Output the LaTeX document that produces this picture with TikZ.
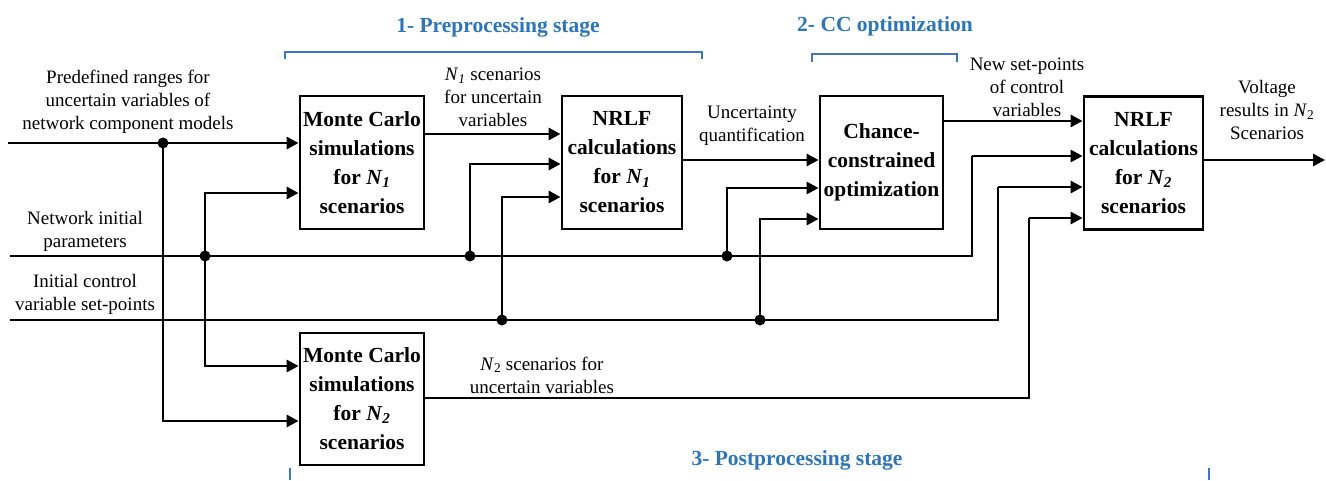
\documentclass[tikz,border=0pt]{standalone}
\usepackage{fontspec}
\setmainfont{Liberation Serif}
\usetikzlibrary{arrows.meta,calc}
\definecolor{headblue}{RGB}{46,117,182}
\definecolor{brkblue}{RGB}{68,114,196}
\newcommand{\Nsub}[1]{\textit{N}\textsubscript{\textit{#1}}}
\tikzset{
  blk/.style={draw,line width=2.8pt,minimum width=124pt,minimum height=133pt,inner sep=0pt,
    align=center,font=\fontsize{21.5}{29}\selectfont\bfseries},
  lbl/.style={align=center,inner sep=0pt,font=\fontsize{19}{23}\selectfont},
  head/.style={inner sep=0pt,text=headblue,font=\fontsize{21.5}{26}\selectfont\bfseries},
  wire/.style={line width=2.8pt},
  arr/.style={wire,-{Triangle[length=12pt,width=12pt]}},
  brk/.style={draw=brkblue,line width=2.5pt},
  dot/.style={circle,fill=black,inner sep=0pt,minimum size=11pt}
}
\begin{document}
\begin{tikzpicture}[x=1pt,y=-1pt]
\useasboundingbox (0,0) rectangle (1326,480);
\fill[white] (0,0) rectangle (1326,480);

% processing blocks
\node[blk] (mc1) at (362,162.5) {Monte Carlo\\simulations\\for \Nsub{1}\\scenarios};
\node[blk,minimum width=120pt] (nr1) at (622,162.5) {NRLF\\calculations\\for \Nsub{1}\\scenarios};
\node[blk,minimum width=123pt] (cc) at (881.5,162.5) {Chance-\\constrained\\optimization};
\node[blk,minimum width=119pt] (nr2) at (1143.5,163) {NRLF\\calculations\\for \Nsub{2}\\scenarios};
\node[blk,minimum height=132pt] (mc2) at (362,399) {Monte Carlo\\simulations\\for \Nsub{2}\\scenarios};

% inputs on the left
\coordinate (s1) at (8,143);
\coordinate (s2) at (10,256);
\coordinate (s3) at (10,320);
% branch points
\coordinate (d1) at (163,143);
\coordinate (d2) at (205,256);
\coordinate (d3) at (470,256);
\coordinate (d4) at (727,256);
\coordinate (d5) at (502,320);
\coordinate (d6) at (760,320);
% corners of the long runs into the last block
\coordinate (kn) at (972,156);
\coordinate (kc) at (998,187);
\coordinate (km) at (1029,218);
\coordinate (out) at (1325,160);

% predefined ranges
\draw[arr] (s1) -- (mc1.west |- s1);
\draw[arr] (d1) |- (mc2.west |- 0,421);
% network initial parameters
\draw[wire] (s2) -| (kn);
\draw[arr] (kn) -- (nr2.west |- kn);
\draw[arr] (d2) |- (mc1.west |- 0,193);
\draw[arr] (d2) |- (mc2.west |- 0,366);
\draw[arr] (d3) |- (nr1.west |- 0,164);
\draw[arr] (d4) |- (cc.west |- 0,188);
% initial control set-points
\draw[wire] (s3) -| (kc);
\draw[arr] (kc) -- (nr2.west |- kc);
\draw[arr] (d5) |- (nr1.west |- 0,197);
\draw[arr] (d6) |- (cc.west |- 0,219);
% block to block
\draw[arr] (mc1.east |- 0,134) -- (nr1.west |- 0,134);
\draw[arr] (nr1.east |- 0,160) -- (cc.west |- 0,160);
\draw[arr] (cc.east |- 0,121) -- (nr2.west |- 0,121);
\draw[wire] (mc2.east |- 0,398) -| (km);
\draw[arr] (km) -- (nr2.west |- km);
\draw[arr] (nr2.east |- out) -- (out);

% junction dots
\foreach \d in {d1,d2,d3,d4,d5,d6} \node[dot] at (\d) {};

% signal labels
\node[lbl] (lpre) at (128,102) {Predefined ranges for\\uncertain variables of\\network component models};
\node[lbl] (lnet) at (85,231) {Network initial\\parameters};
\node[lbl] (lctl) at (85,294) {Initial control\\variable set-points};
\node[lbl] (ln1) at (493,97) {\Nsub{1} scenarios\\for uncertain\\variables};
\node[lbl] (luq) at (752,126) {Uncertainty\\quantification};
\node[lbl] (lnew) at (1027,87) {New set-points\\of control\\variables};
\node[lbl] (lvolt) at (1267,110) {Voltage\\results in \textit{N}\textsubscript{2}\\Scenarios};
\node[lbl] (ln2) at (542,375) {\textit{N}\textsubscript{2} scenarios for\\uncertain variables};

% stage headings and brackets
\node[head] (h1) at (498,27) {1- Preprocessing stage};
\node[head] (h2) at (885,26) {2- CC optimization};
\node[head] (h3) at (797,460) {3- Postprocessing stage};
\draw[brk] (285,59) -- (285,52) -- (702,52) -- (702,59);
\draw[brk] (812,62) -- (812,54) -- (957,54) -- (957,62);
\draw[brk] (290,468) -- (290,480);
\draw[brk] (1209,468) -- (1209,480);
\end{tikzpicture}
\end{document}
